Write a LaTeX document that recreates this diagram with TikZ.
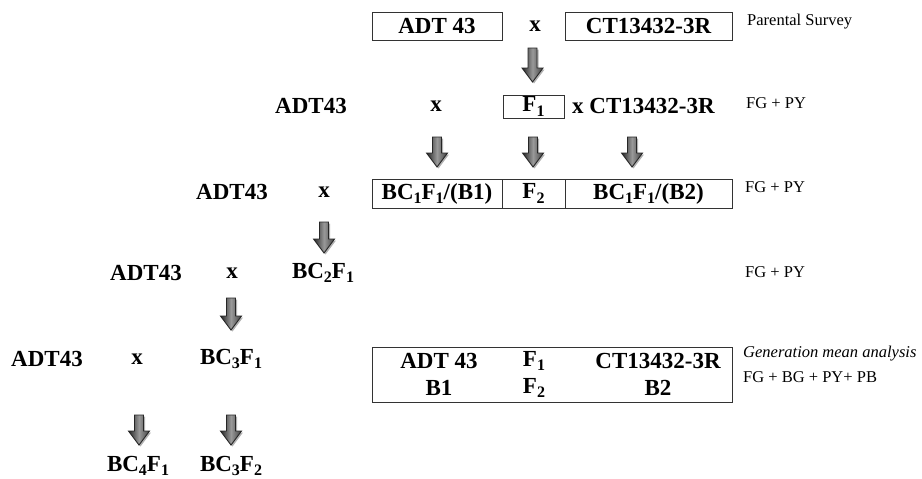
\documentclass[tikz,border=0pt]{standalone}
\usepackage{fontspec}
\setmainfont{Liberation Serif}
\newcommand\lsub[1]{\raisebox{-0.4ex}{\fontsize{16}{16}\selectfont #1}}
\begin{document}
\begin{tikzpicture}[x=1pt,y=-1pt,
  big/.style={font=\fontsize{23}{26}\selectfont\bfseries, inner sep=0pt},
  note/.style={font=\fontsize{16.5}{18}\selectfont, anchor=west, inner sep=0pt},
  genbox/.style={draw=black!80, line width=1pt, inner sep=0pt},
  arrowfill/.style={draw=black!85, line width=0.9pt, line join=miter,
    left color=black!85, right color=black!75, middle color=black!40},
  arrowshade/.style={fill=black!30, draw=none},
  blockarrow/.pic={
    \path[arrowshade, shift={(1.5,1.5)}] (-4.5,0) -- (4.5,0) -- (4.5,#1-14) -- (10.5,#1-14) -- (0,#1) -- (-10.5,#1-14) -- (-4.5,#1-14) -- cycle;
    \path[arrowfill] (-4.5,0) -- (4.5,0) -- (4.5,#1-14) -- (10.5,#1-14) -- (0,#1) -- (-10.5,#1-14) -- (-4.5,#1-14) -- cycle;
  }
]
\useasboundingbox (0,0) rectangle (922,479);

% Row 1
\node[genbox, big, minimum width=130pt, minimum height=28pt] (p1) at (437,26) {ADT 43};
\node[big] (x1) at (535,26) {x};
\node[genbox, big, minimum width=167pt, minimum height=28pt] (p2) at (648.5,26) {CT13432-3R};
\node[note] (n1) at (747,22) {Parental Survey};
\pic at (532.5,48) {blockarrow=34};

% Row 2
\node[big] (a2) at (311,106) {ADT43};
\node[big] (x2) at (436,106) {x};
\node[genbox, big, minimum width=61pt, minimum height=23pt] (f1) at (533.5,106.5) {F\lsub{1}};
\node[big, anchor=west] (c2) at (572,106) {x CT13432-3R};
\node[note] (n2) at (746,103) {FG + PY};
\pic at (437,137) {blockarrow=30};
\pic at (533,137) {blockarrow=30};
\pic at (632,137) {blockarrow=30};

% Row 3
\node[big] (a3) at (232,192) {ADT43};
\node[big] (x3) at (324,192) {x};
\node[genbox, big, minimum width=130pt, minimum height=29pt] (b1) at (437,193.5) {BC\lsub{1}F\lsub{1}/(B1)};
\node[genbox, big, minimum width=63pt, minimum height=29pt] (f2) at (533.5,193.5) {F\lsub{2}};
\node[genbox, big, minimum width=167pt, minimum height=29pt] (b2) at (648.5,193.5) {BC\lsub{1}F\lsub{1}/(B2)};
\node[note] (n3) at (745,187) {FG + PY};
\pic at (324,222) {blockarrow=31};

% Row 4
\node[big] (a4) at (146,273) {ADT43};
\node[big] (x4) at (232,273) {x};
\node[big] (bc2) at (323,273) {BC\lsub{2}F\lsub{1}};
\node[note] (n4) at (745,272) {FG + PY};
\pic at (231,298) {blockarrow=32};

% Row 5
\node[big] (a5) at (47,359) {ADT43};
\node[big] (x5) at (137,359) {x};
\node[big] (bc3) at (231,359) {BC\lsub{3}F\lsub{1}};
\node[genbox, minimum width=360pt, minimum height=55pt] (gma) at (552,374.5) {};
\node[big] (g1) at (439,361) {ADT 43};
\node[big] (g2) at (534,361) {F\lsub{1}};
\node[big] (g3) at (658,361) {CT13432-3R};
\node[big] (g4) at (439,388) {B1};
\node[big] (g5) at (534,388) {F\lsub{2}};
\node[big] (g6) at (658,388) {B2};
\node[note, font=\fontsize{16.5}{18}\selectfont\itshape] (n5) at (743,354) {Generation mean analysis};
\node[note] (n6) at (743,377) {FG + BG + PY+ PB};
\pic at (139,415) {blockarrow=30};
\pic at (231,415) {blockarrow=30};

% Row 6
\node[big] (bc4) at (138,466) {BC\lsub{4}F\lsub{1}};
\node[big] (bc32) at (231,466) {BC\lsub{3}F\lsub{2}};
\end{tikzpicture}
\end{document}
